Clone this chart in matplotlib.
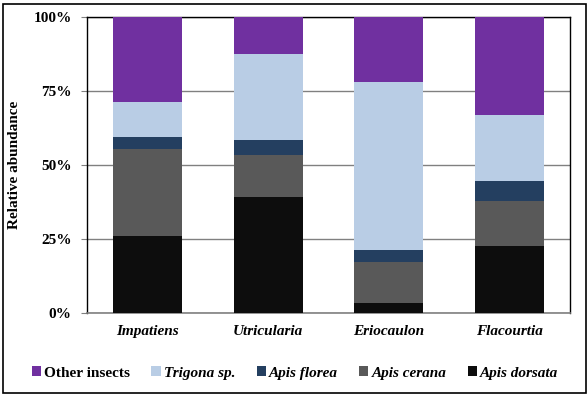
import matplotlib
matplotlib.use("Agg")
import matplotlib.pyplot as plt
from matplotlib.patches import Rectangle
from matplotlib.ticker import FixedLocator

categories = ["Impatiens", "Utricularia", "Eriocaulon", "Flacourtia"]
apis_dorsata = [25.9, 39.1, 3.3, 22.5]
apis_cerana = [29.5, 14.2, 13.7, 15.2]
apis_florea = [4.0, 5.1, 4.1, 6.8]
trigona = [11.9, 29.2, 57.0, 22.4]
other_insects = [28.7, 12.4, 21.9, 33.1]
yticks = [0, 25, 50, 75, 100]
ytick_labels = ["0%", "25%", "50%", "75%", "100%"]

series = [
    ("Apis dorsata", apis_dorsata, "#0d0d0d"),
    ("Apis cerana", apis_cerana, "#595959"),
    ("Apis florea", apis_florea, "#243f60"),
    ("Trigona sp.", trigona, "#b9cde5"),
    ("Other insects", other_insects, "#7030a0"),
]

plt.rcParams['font.family'] = ['Liberation Serif', 'DejaVu Serif']

fig = plt.figure(figsize=(5.88, 3.96), dpi=100)
ax = fig.add_axes([87/588, 1 - 312.5/396, (570-87)/588, (312.5-17)/396])

x = list(range(len(categories)))
bottom = [0.0] * len(categories)
handles = {}
for name, vals, color in series:
    b = ax.bar(x, vals, bottom=bottom, width=0.57, color=color, zorder=3, linewidth=0)
    handles[name] = b
    bottom = [bo + v for bo, v in zip(bottom, vals)]

ax.set_xlim(-0.5, 3.5)
ax.set_ylim(0, 100)
ax.yaxis.set_major_locator(FixedLocator(yticks))
ax.set_yticklabels(ytick_labels, fontsize=11, fontweight='bold')
ax.set_xticks(x)
ax.set_xticklabels(categories, fontsize=11, fontweight='bold', fontstyle='italic')
ax.tick_params(axis='x', length=0, pad=9)
ax.tick_params(axis='y', length=4, width=0.8, color='#808080', pad=7, direction='out')
ax.grid(axis='y', color='#808080', linewidth=1.0, zorder=0)
ax.set_axisbelow(True)
for s in ['top', 'right', 'left']:
    ax.spines[s].set_color('black')
    ax.spines[s].set_linewidth(1.0)
ax.spines['bottom'].set_color('#808080')
ax.spines['bottom'].set_linewidth(1.2)
ax.set_ylabel("Relative abundance", fontsize=11, fontweight='bold', labelpad=9)

order = ["Other insects", "Trigona sp.", "Apis florea", "Apis cerana", "Apis dorsata"]
leg = fig.legend([handles[n] for n in order], order, loc='center',
                 bbox_to_anchor=(295/588, 1 - 373/396), ncol=5, frameon=False,
                 handlelength=0.6, handleheight=0.6, handletextpad=0.2,
                 columnspacing=1.4, prop={'size': 11, 'weight': 'bold'})
for t in leg.get_texts():
    if t.get_text() != "Other insects":
        t.set_fontstyle('italic')

fig.patches.append(Rectangle((2.5/588, 3.5/396), 583/588, 389/396, transform=fig.transFigure,
                             fill=False, edgecolor='black', linewidth=1.2))

fig.savefig("out.png", dpi=100)
